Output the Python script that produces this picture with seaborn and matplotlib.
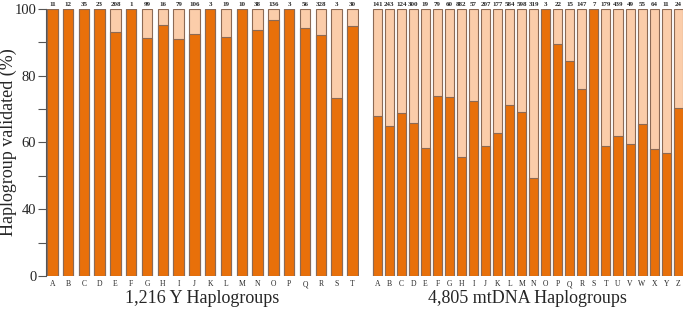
import matplotlib
matplotlib.use("Agg")
import matplotlib.pyplot as plt
import seaborn as sns
import pandas as pd
import numpy as np

# Y haplogroups
y_groups = list("ABCDEFGHIJKLMNOPQRST")
y_counts = [11, 12, 35, 23, 208, 1, 99, 16, 79, 106, 3, 19, 10, 38, 136, 3, 56, 328, 3, 30]
y_valid = [100, 100, 100, 100, 93.0, 100, 91.1, 95.1, 90.8, 92.5,
           100, 91.5, 100, 93.6, 96.5, 100, 94.2, 92.1, 73.3, 94.8]

# mtDNA haplogroups
mt_groups = list("ABCDEFGHIJKLMNOPQRSTUVWXYZ")
mt_counts = [141, 243, 124, 300, 19, 79, 60, 882, 57, 207, 177, 584, 598, 319,
             3, 22, 15, 147, 7, 179, 439, 49, 55, 64, 11, 24]
mt_valid = [67.9, 64.8, 68.8, 65.8, 58.3, 73.9, 73.5, 55.6, 72.3, 59.0, 62.8, 71.2, 69.1, 49.3,
            100, 89.4, 84.3, 75.9, 100, 58.8, 61.9, 59.6, 65.4, 58.0, 56.8, 70.3]

dark = "#E8700A"
light = "#FBCDAA"
edge = "#8C6A55"

sns.set_style("white")
plt.rcParams['font.family'] = ['Liberation Serif', 'DejaVu Serif']


def fwd(v):
    v = np.asarray(v, dtype=float)
    return np.where(v < 40, 20 + v / 2, v)


def inv(u):
    u = np.asarray(u, dtype=float)
    return np.where(u < 40, (u - 20) * 2, u)


fig = plt.figure(figsize=(6.86, 3.10), dpi=100)
ax1 = fig.add_axes([46 / 686, 1 - 276 / 310, 312.7 / 686, 267.3 / 310])
ax2 = fig.add_axes([372.4 / 686, 1 - 276 / 310, 310.6 / 686, 267.3 / 310])


def panel(ax, groups, counts, valid, width, title):
    df = pd.DataFrame({"group": groups, "total": [100] * len(groups), "valid": valid})
    sns.barplot(data=df, x="group", y="total", color=light, width=width, saturation=1,
                edgecolor=edge, linewidth=0.8, ax=ax)
    sns.barplot(data=df, x="group", y="valid", color=dark, width=width, saturation=1,
                edgecolor=edge, linewidth=0.8, ax=ax)
    ax.set_yscale('function', functions=(fwd, inv))
    ax.set_ylim(0, 100)
    ax.set_xlim(-0.4, len(groups) - 0.6)
    for i, c in enumerate(counts):
        ax.annotate(str(c), (i, 100), xytext=(0, 1.2), textcoords="offset points",
                    ha="center", va="bottom", fontsize=5, fontweight="bold",
                    annotation_clip=False)
    ax.tick_params(axis="x", length=0, pad=3, labelsize=5.5)
    ax.set_xlabel(title, fontsize=13, labelpad=1)
    for s in ["top", "right", "bottom"]:
        ax.spines[s].set_visible(False)


panel(ax1, y_groups, y_counts, y_valid, 0.66, "1,216 Y Haplogroups")
panel(ax2, mt_groups, mt_counts, mt_valid, 0.75, "4,805 mtDNA Haplogroups")

ax1.set_yticks([0, 40, 60, 80, 100])
ax1.set_yticks([20, 50, 70, 90], minor=True)
ax1.set_yticklabels(["0", "40", "60", "80", "100"])
ax1.tick_params(axis="y", which="both", direction="out", length=6, width=0.8,
                color="#555555", left=True, labelsize=10.5, pad=1)
ax1.spines["left"].set_color("#555555")
ax1.spines["left"].set_linewidth(0.8)
ax1.set_ylabel("Haplogroup validated (%)", fontsize=13)
ax1.yaxis.set_label_coords(-0.092, 0.5)

ax2.spines["left"].set_visible(False)
ax2.set_yticks([])
ax2.set_yticks([], minor=True)
ax2.set_ylabel("")

fig.savefig("out.png", dpi=100)
